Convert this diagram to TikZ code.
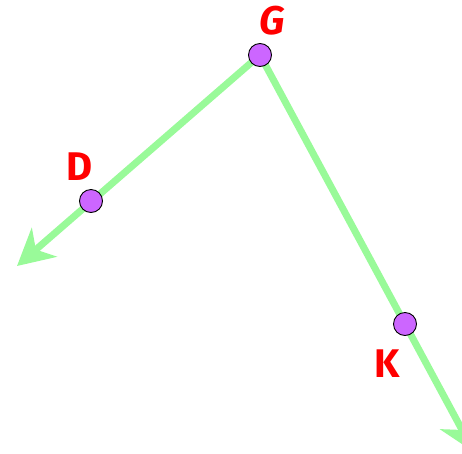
\documentclass[tikz,border=0pt]{standalone}
\usepackage{fontspec}
\setmainfont{Fira Sans}
\usetikzlibrary{arrows.meta,backgrounds}
\definecolor{raygreen}{HTML}{99FA99}
\definecolor{dotpurple}{HTML}{CC66FF}
\definecolor{labelred}{HTML}{FF0000}
\tikzset{ray/.style={draw=raygreen,line width=7pt,-{Stealth[length=36pt,width=38pt,inset=11pt]}},pt/.style={circle,draw=black,fill=dotpurple,line width=0.9pt,minimum size=23pt,inner sep=0pt},ptlabel/.style={text=labelred,font=\fontsize{40}{40}\selectfont\bfseries,inner sep=0pt}}

\begin{document}
\begin{tikzpicture}[x=1pt,y=-1pt]
\useasboundingbox (0,0) rectangle (462,453);
\node[pt] (G) at (260,55) {};
\node[pt] (D) at (91,201) {};
\node[pt] (K) at (405,324) {};
\coordinate (endD) at (17,266);
\coordinate (endK) at (474,452);
\node[ptlabel,font=\fontsize{40}{40}\selectfont\bfseries\itshape] (labG) at (272,21) {G};
\node[ptlabel] (labD) at (80,167) {D};
\node[ptlabel] (labK) at (387,364) {K};
\begin{scope}[on background layer]
\draw[ray] (G.center) -- (endD);
\draw[ray] (G.center) -- (endK);
\end{scope}
\end{tikzpicture}
\end{document}
